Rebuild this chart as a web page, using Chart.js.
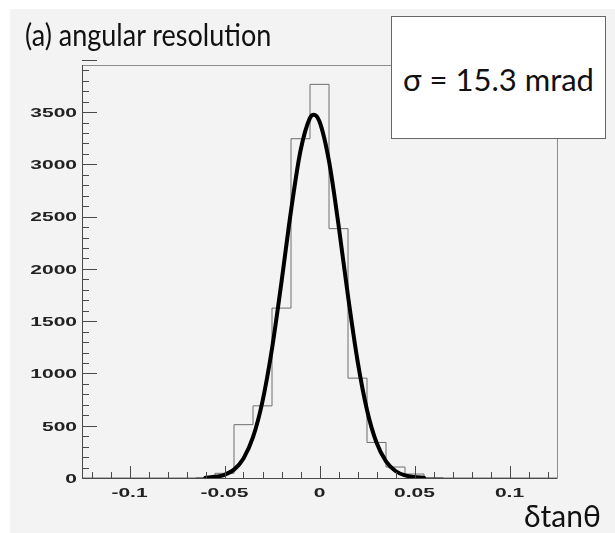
<!DOCTYPE html>
<html>
<head>
<meta charset="utf-8">
<title>angular resolution</title>
<script src="https://cdn.jsdelivr.net/npm/chart.js@4.4.0/dist/chart.umd.min.js"></script>
<style>
  html, body { margin: 0; padding: 0; background: #fff; }
  #page { position: relative; width: 615px; height: 533px; overflow: hidden; }
  #panel { position: absolute; left: 10px; top: 9px; width: 605px; height: 524px; background: #f3f3f3; }
  #plot { position: absolute; left: 0; top: 0; }
  .txt { position: absolute; font-family: Lato, "Open Sans", sans-serif; color: #111; white-space: nowrap; line-height: 1; }
  #title { left: 25px; top: 19px; font-size: 30px; transform: scaleX(0.9); transform-origin: left top; }
  #sigmaBox { position: absolute; left: 391px; top: 16px; width: 213px; height: 121px; background: #fff; border: 1px solid #666; }
  #sigma { left: 0; width: 100%; top: 47px; text-align: center; font-size: 31px; }
  #xlabel { left: 524px; top: 500px; font-size: 30px; }
</style>
</head>
<body>
<div id="page">
  <div id="panel"></div>
  <canvas id="plot" width="615" height="533"></canvas>
  <div id="title" class="txt">(a) angular resolution</div>
  <div id="sigmaBox"><div id="sigma" class="txt">σ = 15.3 mrad</div></div>
  <div id="xlabel" class="txt">δtanθ</div>
</div>
<script>
// histogram: 25 bins of width 0.01, centres
const binWidth = 0.01;
const binCenters = [-0.12, -0.11, -0.10, -0.09, -0.08, -0.07, -0.06, -0.05, -0.04, -0.03, -0.02, -0.01, 0,
                    0.01, 0.02, 0.03, 0.04, 0.05, 0.06, 0.07, 0.08, 0.09, 0.10, 0.11, 0.12];
const binCounts = [0, 0, 0, 0, 0, 0, 4, 45, 510, 690, 1625, 3245, 3765,
                   2385, 955, 340, 105, 38, 4, 0, 0, 0, 0, 0, 0];

// gaussian fit curve, sampled from the drawn line
const fitX = [-0.06, -0.055, -0.05, -0.045, -0.04, -0.035, -0.03, -0.025, -0.02, -0.015, -0.01, -0.005, -0.003,
              0, 0.005, 0.01, 0.015, 0.02, 0.025, 0.03, 0.035, 0.04, 0.045, 0.05, 0.055];
const fitY = [3, 11, 31, 80, 187, 390, 733, 1236, 1875, 2555, 3130, 3445, 3475,
              3409, 3030, 2422, 1740, 1123, 651, 339, 159, 67, 25, 9, 3];

// axes
const xRange = [-0.125, 0.125];
const yRange = [0, 3950];
const xTickValues = [-0.1, -0.05, 0, 0.05, 0.1];
const xTickLabels = ["-0.1", "-0.05", "0", "0.05", "0.1"];
const yTickValues = [0, 500, 1000, 1500, 2000, 2500, 3000, 3500];
const yTickLabels = ["0", "500", "1000", "1500", "2000", "2500", "3000", "3500"];
const xMinorStep = 0.01;
const yMinorStep = 100;

// histogram outline as a stepped line over the bin edges
const histPoints = binCenters.map((c, i) => ({ x: c - binWidth / 2, y: binCounts[i] }));
histPoints.push({ x: binCenters[binCenters.length - 1] + binWidth / 2, y: binCounts[binCounts.length - 1] });
const fitPoints = fitX.map((x, i) => ({ x: x, y: fitY[i] }));

// ROOT-like frame with inward ticks and wide bold labels
function wideText(ctx, text, x, y, align) {
  ctx.save();
  ctx.translate(x, y);
  ctx.scale(1.75, 1);
  ctx.textAlign = align;
  ctx.textBaseline = "middle";
  ctx.fillText(text, 0, 0);
  ctx.restore();
}

const rootFrame = {
  id: "rootFrame",
  afterDraw(chart) {
    const { ctx, chartArea: a } = chart;
    const xs = chart.scales.x, ys = chart.scales.y;
    ctx.save();
    ctx.lineWidth = 1;

    ctx.strokeStyle = "#8c8c8c";
    ctx.beginPath();
    ctx.moveTo(a.left, a.top + 0.5);
    ctx.lineTo(a.right + 0.5, a.top + 0.5);
    ctx.lineTo(a.right + 0.5, a.bottom);
    ctx.stroke();

    ctx.strokeStyle = "#4a4a4a";
    ctx.beginPath();
    ctx.moveTo(a.left + 0.5, a.top);
    ctx.lineTo(a.left + 0.5, a.bottom + 0.5);
    ctx.lineTo(a.right + 0.5, a.bottom + 0.5);
    ctx.stroke();

    // y ticks
    const nY = Math.round(yRange[1] / yMinorStep);
    ctx.beginPath();
    for (let i = 0; i <= nY; i++) {
      const py = Math.round(ys.getPixelForValue(i * yMinorStep)) + 0.5;
      const len = (i * yMinorStep) % 500 === 0 ? 15 : 7;
      ctx.moveTo(a.left, py);
      ctx.lineTo(a.left + len, py);
    }
    // x ticks
    const nX = Math.round((xRange[1] - xRange[0]) / xMinorStep);
    for (let i = -nX; i <= nX; i++) {
      const v = i * xMinorStep;
      if (v < xRange[0] || v > xRange[1]) continue;
      const px = Math.round(xs.getPixelForValue(v)) + 0.5;
      const len = i % 5 === 0 ? 12 : 6;
      ctx.moveTo(px, a.bottom);
      ctx.lineTo(px, a.bottom - len);
    }
    ctx.stroke();

    ctx.fillStyle = "#222";
    ctx.font = "bold 12px 'Liberation Sans', Arial, sans-serif";
    yTickValues.forEach((v, i) => {
      wideText(ctx, yTickLabels[i], a.left - 5, ys.getPixelForValue(v) + 1.5, "right");
    });
    xTickValues.forEach((v, i) => {
      wideText(ctx, xTickLabels[i], xs.getPixelForValue(v), a.bottom + 16, "center");
    });
    ctx.restore();
  }
};

new Chart(document.getElementById("plot"), {
  type: "scatter",
  data: {
    datasets: [
      {
        label: "fit",
        data: fitPoints,
        showLine: true,
        borderColor: "#000",
        borderWidth: 4,
        borderCapStyle: "round",
        borderJoinStyle: "round",
        cubicInterpolationMode: "monotone",
        pointRadius: 0,
        order: 0
      },
      {
        label: "histogram",
        data: histPoints,
        showLine: true,
        stepped: "before",
        borderColor: "#6e6e6e",
        borderWidth: 1,
        pointRadius: 0,
        order: 1
      }
    ]
  },
  options: {
    responsive: false,
    animation: false,
    layout: { padding: { left: 82, right: 58, top: 65, bottom: 55 } },
    plugins: { legend: { display: false }, tooltip: { enabled: false } },
    scales: {
      x: { type: "linear", display: false, min: xRange[0], max: xRange[1] },
      y: { type: "linear", display: false, min: yRange[0], max: yRange[1] }
    }
  },
  plugins: [rootFrame]
});
</script>
</body>
</html>
